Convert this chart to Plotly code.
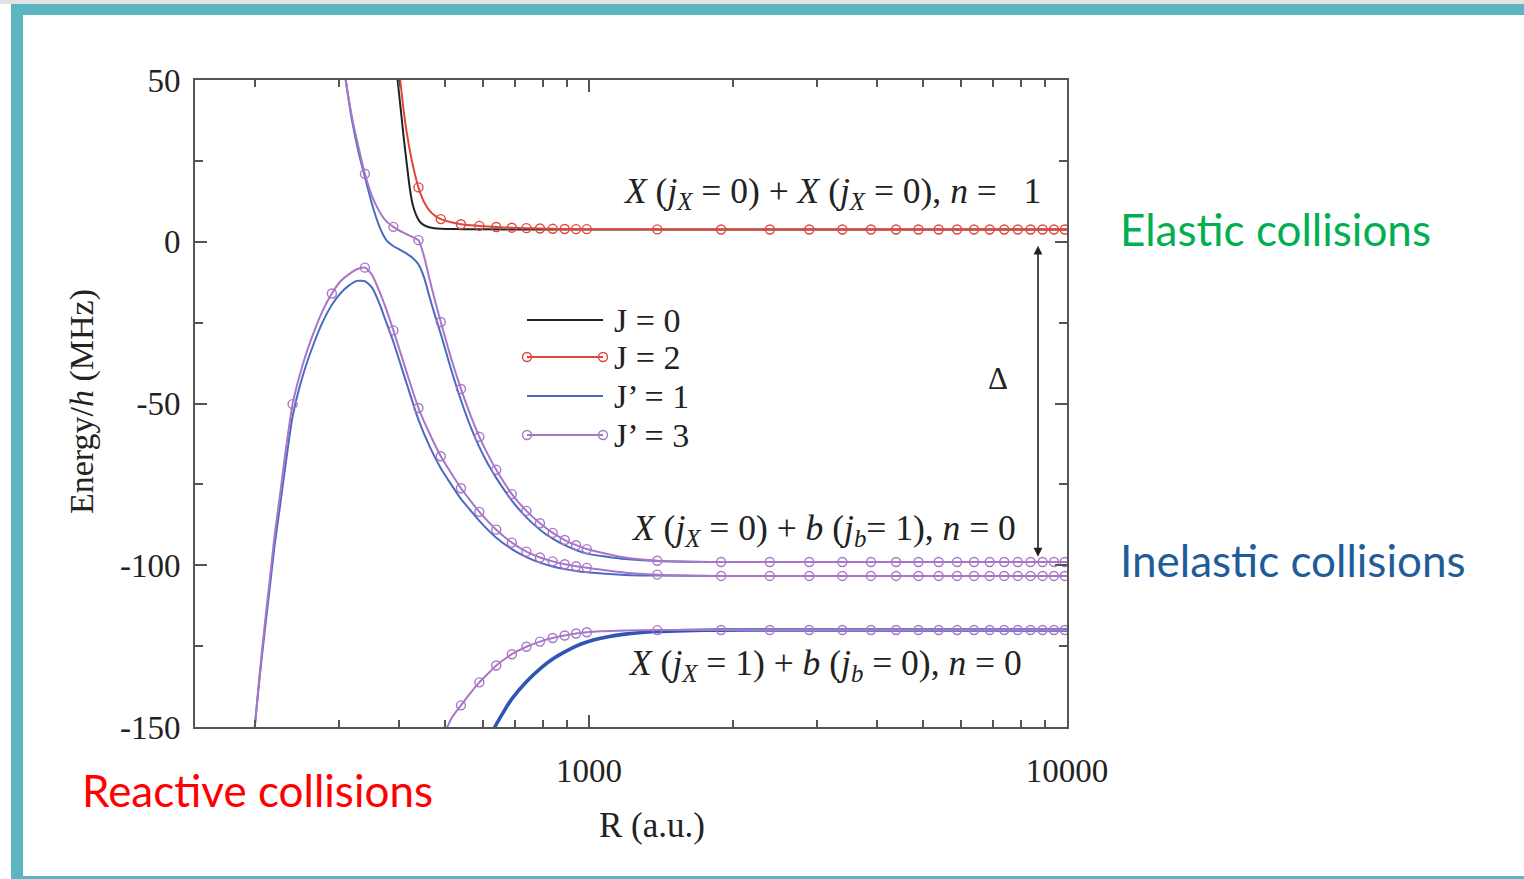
import math
import plotly.graph_objects as go

# ---------------- data ----------------
# radii (a.u.) at which the open-circle markers are drawn
MARK_R = [240, 290, 340, 390, 440, 490, 540, 590, 640, 690, 740, 790, 840, 890, 940, 990,
          1390, 1890, 2390, 2890, 3390, 3890, 4390, 4890, 5390, 5890, 6390, 6890,
          7390, 7890, 8390, 8890, 9390, 9890]

# J = 0 (black), elastic channel
r_j0 = [392, 398, 404, 410, 416, 422, 428, 435, 442, 450, 465, 490, 540, 600, 800, 1000,
        1390, 2000, 5000, 10000]
e_j0 = [60, 50, 41, 32, 24, 16.6, 11.5, 8.3, 6.4, 5.3, 4.4, 4.0, 3.9, 3.85, 3.8, 3.8,
        3.8, 3.8, 3.8, 3.8]

# J = 2 (red), elastic channel
r_j2 = [395, 403, 411, 420, 430, 440, 452, 465, 477, 490, 515, 540, 565, 590, 640, 690,
        740, 790, 840, 890, 940, 990, 1190, 1390, 1890, 2390, 2890, 3390, 3890, 4390,
        4890, 5390, 5890, 6390, 6890, 7390, 7890, 8390, 8890, 9390, 9890, 10000]
e_j2 = [62, 50, 39, 30, 22.5, 16.8, 12.3, 9.5, 8.0, 7.0, 6.0, 5.4, 5.1, 4.9, 4.55, 4.35,
        4.2, 4.1, 4.0, 3.95, 3.9, 3.9, 3.85, 3.82, 3.8, 3.8, 3.8, 3.8, 3.8, 3.8,
        3.8, 3.8, 3.8, 3.8, 3.8, 3.8, 3.8, 3.8, 3.8, 3.8, 3.8, 3.8]

# J' = 3 (purple), curve coming down from the top onto the n = 0 inelastic threshold
r_s3 = [300, 310, 320, 330, 340, 352, 365, 377, 390, 402, 415, 428, 440, 452, 465, 477,
        490, 515, 540, 565, 590, 615, 640, 690, 740, 790, 840, 890, 940, 990, 1190,
        1390, 1890, 2390, 2890, 3390, 3890, 4390, 4890, 5390, 5890, 6390, 6890, 7390,
        7890, 8390, 8890, 9390, 9890, 10000]
e_s3 = [66, 50, 38, 29, 21, 14, 9.2, 6.3, 4.6, 3.4, 2.4, 1.4, 0.5, -4.5, -12, -18.5,
        -24.8, -36, -45.5, -53.5, -60.3, -65.8, -70.5, -78, -83.2, -87, -90, -92.2, -93.8, -95, -97.6,
        -98.6, -99, -99, -99, -99, -99, -99, -99, -99, -99, -99, -99, -99,
        -99, -99, -99, -99, -99, -99]

# J' = 1 (blue), same channel
r_s1 = [300, 310, 320, 330, 340, 352, 365, 377, 390, 402, 415, 428, 440, 452, 465, 477,
        490, 515, 540, 565, 590, 615, 640, 690, 740, 790, 840, 890, 940, 990, 1190,
        1390, 1890, 10000]
e_s1 = [66, 50, 37, 27.5, 20, 11.5, 4.5, 0.5, -1.4, -2.4, -3.6, -5, -7, -11, -17.5, -23,
        -28.5, -39.5, -49, -57, -63.5, -68.7, -73, -80, -85.2, -89, -91.8, -93.8, -95.3, -96.4, -98.1,
        -98.7, -99, -99]

# J' = 3 (purple), reactive hump
r_h3 = [195, 200, 205, 210, 215, 220, 226, 231, 240, 252, 265, 277, 290, 302, 315, 327,
        340, 352, 365, 377, 390, 415, 440, 465, 490, 515, 540, 565, 590, 640, 690, 740,
        790, 840, 890, 940, 990, 1190, 1390, 1890, 2390, 2890, 3390, 3890, 4390, 4890,
        5390, 5890, 6390, 6890, 7390, 7890, 8390, 8890, 9390, 9890, 10000]
e_h3 = [-166, -150, -133, -118, -104.5, -91, -78, -67, -50.2, -38, -28.5, -21.5, -16, -12.3, -10, -8.5,
        -8, -10.3, -15.5, -21, -27.4, -40, -51.4, -59.5, -66.3, -71.5, -76.2, -80, -83.5, -89, -93, -95.8,
        -97.6, -98.8, -99.7, -100.3, -100.8, -102.3, -102.9, -103.3, -103.3, -103.3, -103.3, -103.3, -103.3, -103.3,
        -103.3, -103.3, -103.3, -103.3, -103.3, -103.3, -103.3, -103.3, -103.3, -103.3, -103.3]

# J' = 1 (blue), reactive hump
r_h1 = [195, 200, 205, 210, 215, 220, 226, 231, 240, 252, 265, 277, 290, 302, 315, 327,
        340, 352, 365, 377, 390, 415, 440, 465, 490, 515, 540, 565, 590, 640, 690, 740,
        790, 840, 890, 940, 990, 1190, 1390, 1890, 10000]
e_h1 = [-166, -150, -134, -120, -107, -94, -81.5, -71, -54, -41.5, -32, -25, -19.5, -16, -13.5, -12.1,
        -12.2, -14.2, -19.3, -25, -31, -43.5, -55, -63.5, -70, -75, -79.5, -83, -86.3, -91.5, -95, -97.5,
        -99.2, -100.4, -101.2, -101.8, -102.2, -103, -103.2, -103.3, -103.3]

# J' = 3 (purple), lower threshold X(jX=1)+b(jb=0)
r_l3 = [480, 490, 515, 540, 565, 590, 615, 640, 690, 740, 790, 840, 890, 940, 990, 1190,
        1390, 1890, 2390, 2890, 3390, 3890, 4390, 4890, 5390, 5890, 6390, 6890, 7390,
        7890, 8390, 8890, 9390, 9890, 10000]
e_l3 = [-160, -155, -147.5, -143.3, -139.5, -136.2, -133.5, -131, -127.5, -125.2, -123.6, -122.5, -121.7, -121.1, -120.7, -120.2,
        -120.05, -120, -120, -120, -120, -120, -120, -120, -120, -120, -120, -120, -120,
        -120, -120, -120, -120, -120, -120]

# J' = 1 (blue), lower threshold
r_l1 = [620, 636, 665, 690, 740, 790, 840, 890, 940, 990, 1090, 1190, 1390, 1590, 1890, 2390, 10000]
e_l1 = [-155, -150, -145, -141.3, -136, -132, -129, -126.8, -125, -123.7, -122.2, -121.3, -120.5, -120.2, -120.05, -120, -120]

X_TICKS = [1000, 10000]
X_TICK_TEXT = ["1000", "10000"]
X_MINOR = [200, 300, 400, 500, 600, 700, 800, 900,
           2000, 3000, 4000, 5000, 6000, 7000, 8000, 9000]
Y_TICKS = [-150, -100, -50, 0, 50]
Y_TICK_TEXT = ["-150", "-100", "-50", "0", "50"]

LEGEND_LABELS = ["J = 0", "J = 2", "J\u2019 = 1", "J\u2019 = 3"]

# ---------------- styles ----------------
BLACK = "#222222"
RED = "#E0463C"
BLUE = "#4A6BC2"
BLUE_DARK = "#2F55B6"
PURPLE = "#A876C6"
AXIS = "#555555"
TEAL = "#5BB6C1"
SERIF = "Liberation Serif"
SANS = "Lato"

W, H = 1524, 879
ML, MR, MT, MB = 195, 457, 80, 152
PW, PH = W - ML - MR, H - MT - MB


def px(x):
    return (x - ML) / PW


def py(y):
    return (H - MB - y) / PH


fig = go.Figure()


def add_curve(r, e, color, width=2.0, markers=False):
    fig.add_trace(go.Scatter(x=r, y=e, mode="lines",
                             line=dict(color=color, width=width, shape="spline", smoothing=0.6),
                             hoverinfo="skip", showlegend=False))
    if markers:
        mr = [ri for ri in r if ri in MARK_R]
        me = [ei for ri, ei in zip(r, e) if ri in MARK_R]
        fig.add_trace(go.Scatter(x=mr, y=me, mode="markers",
                                 marker=dict(symbol="circle-open", size=9, color=color,
                                             line=dict(width=1.4, color=color)),
                                 hoverinfo="skip", showlegend=False))


add_curve(r_s1, e_s1, BLUE)
add_curve(r_h1, e_h1, BLUE)
add_curve(r_l1, e_l1, BLUE_DARK, width=3.6)
add_curve(r_s3, e_s3, PURPLE, markers=True)
add_curve(r_h3, e_h3, PURPLE, markers=True)
add_curve(r_l3, e_l3, PURPLE, markers=True)
add_curve(r_j0, e_j0, BLACK)
add_curve(r_j2, e_j2, RED, markers=True)

# ---------------- axes ----------------
common = dict(showline=True, linecolor=AXIS, linewidth=2, mirror="ticks",
              ticks="inside", ticklen=12, tickwidth=2, tickcolor=AXIS,
              showgrid=False, zeroline=False,
              tickfont=dict(family=SERIF, size=33, color=BLACK))
fig.update_xaxes(type="log", range=[math.log10(150), 4], tickmode="array",
                 tickvals=X_TICKS, ticktext=X_TICK_TEXT, ticklabelstandoff=13,
                 minor=dict(tickmode="array", tickvals=X_MINOR, ticks="inside",
                            ticklen=7, tickwidth=1.5, tickcolor=AXIS, showgrid=False),
                 **common)
fig.update_yaxes(range=[-150, 50], tickmode="array", tickvals=Y_TICKS, ticktext=Y_TICK_TEXT,
                 ticklabelstandoff=6,
                 minor=dict(dtick=25, ticks="inside", ticklen=8, tickwidth=1.5,
                            tickcolor=AXIS, showgrid=False),
                 **common)

ann = []


def note(x, y, text, font, xanchor="center", **kw):
    d = dict(x=px(x), y=py(y), xref="paper", yref="paper", text=text, showarrow=False,
             font=font, xanchor=xanchor, yanchor="middle")
    d.update(kw)
    ann.append(d)


# axis titles
note(82, 402, "Energy/<i>h</i> (MHz)", dict(family=SERIF, size=34, color=BLACK), textangle=-90)
note(652, 825, "R (a.u.)", dict(family=SERIF, size=35, color=BLACK))

# channel labels
NB = "\u00a0"
lab_font = dict(family=SERIF, size=35.5, color=BLACK)
note(832, 193, "<i>X</i> (<i>j</i><sub><i>X</i></sub> = 0) + <i>X</i> (<i>j</i><sub><i>X</i></sub> = 0), <i>n</i> ="
     + NB * 3 + "1", lab_font)
note(823, 530, "<i>X</i> (<i>j</i><sub><i>X</i></sub> = 0) + <i>b</i> (<i>j</i><sub><i>b</i></sub>= 1), <i>n</i> = 0",
     lab_font)
note(825, 665, "<i>X</i> (<i>j</i><sub><i>X</i></sub> = 1) + <i>b</i> (<i>j</i><sub><i>b</i></sub> = 0), <i>n</i> = 0",
     lab_font)

# splitting arrow between the two thresholds
ann.append(dict(x=px(1038), y=-1.2, xref="paper", yref="y", ax=0, ay=-97.8,
                axref="pixel", ayref="y", text="", showarrow=True, arrowside="end+start",
                arrowhead=2, arrowsize=1.1, arrowwidth=1.6, arrowcolor=BLACK))
note(998, 378, "\u0394", dict(family=SERIF, size=31, color=BLACK))

# collision-type captions
note(1118, 229, "Elastic collisions", dict(family=SANS, size=44, color="#00B050"), xanchor="left")
note(1118, 560, "Inelastic collisions", dict(family=SANS, size=44, color="#1F5C9A"), xanchor="left")
note(80, 790, "Reactive collisions", dict(family=SANS, size=44, color="#FF0000"), xanchor="left")

# legend
shapes = []
leg_rows = [320, 357, 396, 435]
leg_cols = [BLACK, RED, BLUE, PURPLE]
leg_mark = [False, True, False, True]
for yrow, col, mk, lab in zip(leg_rows, leg_cols, leg_mark, LEGEND_LABELS):
    shapes.append(dict(type="line", xref="paper", yref="paper", x0=px(527), x1=px(603),
                       y0=py(yrow), y1=py(yrow), line=dict(color=col, width=2)))
    if mk:
        for xe in (527, 603):
            shapes.append(dict(type="circle", xref="paper", yref="paper",
                               xsizemode="pixel", ysizemode="pixel",
                               xanchor=px(xe), yanchor=py(yrow),
                               x0=-4.5, x1=4.5, y0=-4.5, y1=4.5,
                               line=dict(color=col, width=1.4)))
    note(612, yrow, lab, dict(family=SERIF, size=34, color=BLACK), xanchor="left")

# slide frame
shapes.append(dict(type="rect", xref="paper", yref="paper", x0=px(0), x1=px(W),
                   y0=py(4), y1=py(0), line=dict(width=0), fillcolor="#E2E2E2", layer="below"))
shapes.append(dict(type="rect", xref="paper", yref="paper", x0=px(11), x1=px(W),
                   y0=py(15), y1=py(4), line=dict(width=0), fillcolor=TEAL))
shapes.append(dict(type="rect", xref="paper", yref="paper", x0=px(11), x1=px(23),
                   y0=py(H), y1=py(4), line=dict(width=0), fillcolor=TEAL))
shapes.append(dict(type="rect", xref="paper", yref="paper", x0=px(11), x1=px(W),
                   y0=py(H), y1=py(876), line=dict(width=0), fillcolor=TEAL))

fig.update_layout(width=W, height=H, margin=dict(l=ML, r=MR, t=MT, b=MB),
                  plot_bgcolor="white", paper_bgcolor="white", showlegend=False,
                  annotations=ann, shapes=shapes)

fig.write_html("out.html")
